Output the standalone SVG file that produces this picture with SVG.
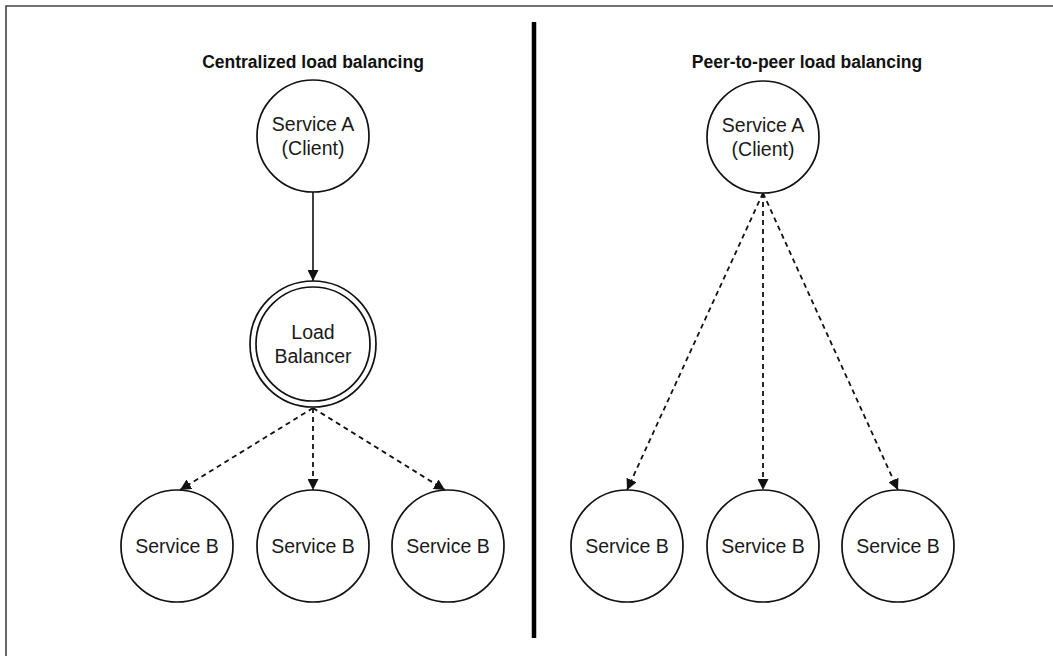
<svg xmlns="http://www.w3.org/2000/svg" width="1053" height="656" viewBox="0 0 1053 656">
<defs>
<style>
.node{fill:#fff;stroke:#111;stroke-width:1.7}
.lbl{font-family:"Liberation Sans",Arial,sans-serif;font-size:19.5px;fill:#1a1a1a;text-anchor:middle}
.title{font-family:"Liberation Sans",Arial,sans-serif;font-size:17.5px;font-weight:bold;fill:#111;text-anchor:middle}
.solid{stroke:#111;stroke-width:1.6;fill:none}
.dash{stroke:#111;stroke-width:1.8;fill:none;stroke-dasharray:5 4}
</style>
<marker id="ah" viewBox="0 0 10 10" refX="10" refY="5" markerWidth="11" markerHeight="11" markerUnits="userSpaceOnUse" orient="auto">
<path d="M0,0 L10,5 L0,10 z" fill="#111"/>
</marker>
</defs>
<rect width="1053" height="656" fill="#fff"/>
<path d="M6,656 L6,6 L1053,6" fill="none" stroke="#444" stroke-width="1.6"/>
<line x1="534" y1="22" x2="534" y2="638" stroke="#000" stroke-width="4.5"/>
<text class="title" x="313" y="68">Centralized load balancing</text>
<text class="title" x="807" y="68">Peer-to-peer load balancing</text>
<g id="connectors">
<line class="solid" x1="313" y1="192" x2="313" y2="281" marker-end="url(#ah)"/>
<line class="dash" x1="313" y1="408" x2="180" y2="490" marker-end="url(#ah)"/>
<line class="dash" x1="313" y1="408" x2="313" y2="490" marker-end="url(#ah)"/>
<line class="dash" x1="313" y1="408" x2="445" y2="490" marker-end="url(#ah)"/>
<line class="dash" x1="763" y1="193" x2="627" y2="490" marker-end="url(#ah)"/>
<line class="dash" x1="763" y1="193" x2="763" y2="490" marker-end="url(#ah)"/>
<line class="dash" x1="763" y1="193" x2="898" y2="490" marker-end="url(#ah)"/>
</g>
<g id="svcA-left"><circle class="node" cx="313" cy="136" r="56"/><text class="lbl" x="313" y="131">Service A</text><text class="lbl" x="313" y="155">(Client)</text></g>
<g id="lb"><circle class="node" cx="313" cy="344" r="63"/><circle class="node" cx="313" cy="344" r="57"/><text class="lbl" x="313" y="339">Load</text><text class="lbl" x="313" y="363">Balancer</text></g>
<g id="svcB-l1"><circle class="node" cx="177" cy="546" r="56"/><text class="lbl" x="177" y="553">Service B</text></g>
<g id="svcB-l2"><circle class="node" cx="313" cy="546" r="56"/><text class="lbl" x="313" y="553">Service B</text></g>
<g id="svcB-l3"><circle class="node" cx="448" cy="546" r="56"/><text class="lbl" x="448" y="553">Service B</text></g>
<g id="svcA-right"><circle class="node" cx="763" cy="137" r="56"/><text class="lbl" x="763" y="132">Service A</text><text class="lbl" x="763" y="156">(Client)</text></g>
<g id="svcB-r1"><circle class="node" cx="627" cy="546" r="56"/><text class="lbl" x="627" y="553">Service B</text></g>
<g id="svcB-r2"><circle class="node" cx="763" cy="546" r="56"/><text class="lbl" x="763" y="553">Service B</text></g>
<g id="svcB-r3"><circle class="node" cx="898" cy="546" r="56"/><text class="lbl" x="898" y="553">Service B</text></g>
</svg>
